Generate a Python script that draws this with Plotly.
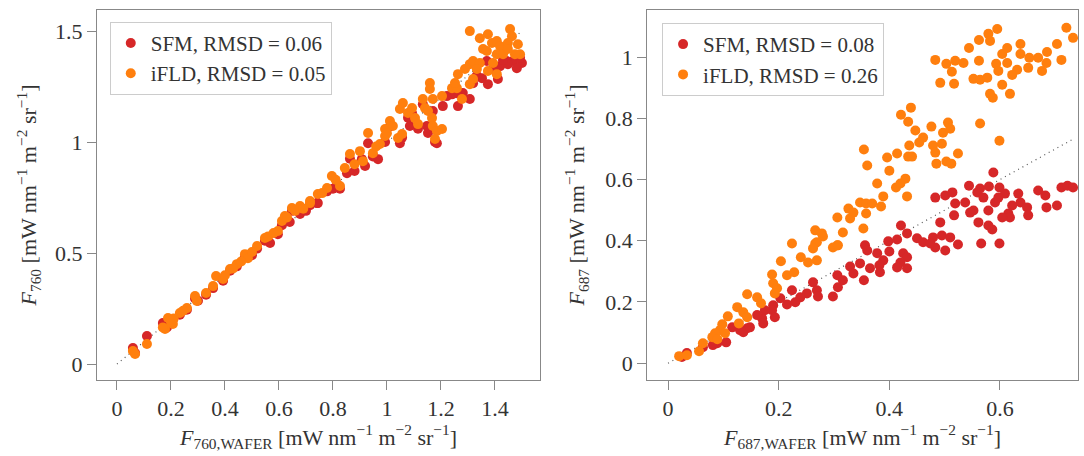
import plotly.graph_objects as go

# ---------------- data ----------------
SFM_760 = [(0.059,0.072),(0.111,0.126),(0.170,0.185),(0.178,0.170),(0.207,0.200),(0.233,0.222),(0.259,0.245),
 (0.289,0.295),(0.330,0.312),(0.356,0.342),(0.393,0.375),(0.419,0.420),(0.444,0.440),(0.474,0.482),(0.519,0.520),
 (0.548,0.555),(0.567,0.545),(0.596,0.585),(0.611,0.625),(0.648,0.690),(0.678,0.676),(0.715,0.715),(0.744,0.725),
 (0.741,0.725),(0.778,0.778),(0.815,0.811),(0.826,0.790),(0.852,0.860),(0.863,0.925),(0.907,0.923),(0.919,0.892),
 (0.930,0.995),(0.948,0.935),(0.967,0.923),(0.993,1.000),(1.011,1.070),(1.048,0.995),(1.056,1.020),(1.078,1.110),
 (1.085,1.072),(1.115,1.060),(1.148,1.072),(1.152,1.041),(1.185,0.995),(1.178,1.000),(1.207,1.162),(1.222,1.207),
 (1.263,1.162),(1.281,1.221),(1.307,1.194),(1.352,1.288),(1.374,1.261),(1.411,1.284),(1.370,1.365),(1.419,1.342),
 (1.467,1.365),(1.500,1.356),(1.481,1.333),(1.444,1.365),(1.448,1.351),(1.333,1.300),(1.393,1.330),(1.430,1.370),
 (1.493,1.380),(1.170,1.140),(1.133,1.170),(1.093,1.130),(1.259,1.220),(1.241,1.215),(1.319,1.265),(0.800,0.790),
 (0.880,0.870),(0.067,0.050),(0.185,0.165),(0.300,0.285),(0.500,0.490),(0.640,0.640),(0.700,0.690)]

IFLD_760 = [(0.059,0.059),(0.067,0.045),(0.111,0.090),(0.178,0.158),(0.189,0.207),(0.207,0.180),(0.233,0.230),
 (0.259,0.252),(0.289,0.306),(0.296,0.284),(0.330,0.320),(0.356,0.351),(0.367,0.396),(0.393,0.383),(0.419,0.428),
 (0.444,0.450),(0.474,0.495),(0.485,0.477),(0.519,0.532),(0.548,0.568),(0.596,0.599),(0.611,0.644),(0.622,0.667),
 (0.648,0.703),(0.678,0.712),(0.715,0.725),(0.715,0.734),(0.744,0.766),(0.778,0.793),(0.796,0.847),(0.826,0.802),
 (0.844,0.883),(0.863,0.946),(0.900,0.959),(0.911,0.914),(0.930,1.041),(0.948,0.950),(0.974,0.991),(0.993,1.027),
 (0.993,1.059),(1.011,1.095),(1.022,1.072),(1.041,1.018),(1.056,1.036),(1.048,1.149),(1.059,1.176),(1.078,1.131),
 (1.093,1.153),(1.104,1.108),(1.115,1.081),(1.133,1.194),(1.141,1.153),(1.152,1.140),(1.159,1.266),(1.159,1.239),
 (1.167,1.108),(1.170,1.072),(1.185,1.050),(1.204,1.059),(1.178,1.014),(1.170,1.194),(1.204,1.207),(1.241,1.243),
 (1.259,1.243),(1.252,1.266),(1.278,1.194),(1.307,1.261),(1.263,1.306),(1.289,1.329),(1.307,1.351),(1.319,1.365),
 (1.344,1.356),(1.333,1.329),(1.319,1.284),(1.374,1.320),(1.407,1.306),(1.393,1.356),(1.307,1.500),(1.344,1.468),
 (1.374,1.486),(1.389,1.446),(1.407,1.455),(1.419,1.432),(1.356,1.419),(1.370,1.410),(1.407,1.396),(1.430,1.396),
 (1.456,1.509),(1.463,1.477),(1.448,1.446),(1.485,1.441),(1.493,1.396),(1.474,1.396),(1.448,1.419),(0.170,0.165),
 (0.200,0.190),(0.210,0.205),(0.245,0.240),(0.400,0.400),(0.430,0.430),(0.460,0.462),(0.500,0.505),(0.560,0.575),
 (0.580,0.590),(0.630,0.660),(0.660,0.690),(0.690,0.700),(0.760,0.770),(0.810,0.830),(0.880,0.900),(0.960,0.980),
 (1.000,1.040)]

SFM_687 = [(0.588,0.623),(0.544,0.580),(0.564,0.571),(0.580,0.577),(0.599,0.574),(0.609,0.554),(0.633,0.554),
 (0.637,0.525),(0.622,0.515),(0.615,0.489),(0.618,0.476),(0.604,0.476),(0.649,0.509),(0.651,0.483),(0.669,0.564),
 (0.682,0.548),(0.684,0.509),(0.703,0.515),(0.711,0.574),(0.722,0.580),(0.732,0.574),(0.559,0.558),(0.570,0.541),
 (0.591,0.525),(0.597,0.541),(0.579,0.499),(0.552,0.499),(0.483,0.541),(0.501,0.548),(0.514,0.558),(0.519,0.522),
 (0.537,0.525),(0.517,0.483),(0.561,0.460),(0.579,0.450),(0.586,0.437),(0.566,0.391),(0.599,0.391),(0.492,0.460),
 (0.421,0.450),(0.432,0.424),(0.450,0.408),(0.461,0.395),(0.479,0.411),(0.495,0.417),(0.510,0.411),(0.524,0.388),
 (0.501,0.368),(0.483,0.378),(0.474,0.391),(0.398,0.398),(0.414,0.404),(0.400,0.365),(0.425,0.359),(0.432,0.346),
 (0.420,0.329),(0.414,0.313),(0.432,0.310),(0.356,0.385),(0.360,0.368),(0.378,0.359),(0.389,0.336),(0.382,0.320),
 (0.383,0.297),(0.365,0.310),(0.347,0.326),(0.329,0.316),(0.335,0.293),(0.354,0.271),(0.306,0.287),(0.316,0.271),
 (0.307,0.248),(0.262,0.264),(0.269,0.238),(0.271,0.218),(0.298,0.218),(0.251,0.228),(0.224,0.238),(0.239,0.215),
 (0.230,0.199),(0.215,0.192),(0.203,0.212),(0.190,0.189),(0.188,0.173),(0.193,0.150),(0.175,0.173),(0.170,0.147),
 (0.172,0.130),(0.161,0.157),(0.143,0.114),(0.130,0.108),(0.136,0.101),(0.148,0.117),(0.116,0.117),(0.105,0.068),
 (0.089,0.065),(0.081,0.059),(0.063,0.052),(0.034,0.033),(0.025,0.020),(0.546,0.492)]

IFLD_687 = [(0.483,0.991),(0.503,0.978),(0.519,0.988),(0.534,0.981),(0.513,0.952),(0.492,0.916),(0.517,0.913),
 (0.544,1.030),(0.562,1.056),(0.579,1.076),(0.595,1.092),(0.582,1.053),(0.562,0.988),(0.552,0.929),(0.564,0.926),
 (0.577,0.933),(0.582,0.880),(0.587,0.867),(0.604,0.910),(0.618,0.880),(0.593,0.978),(0.597,0.955),(0.613,0.981),
 (0.604,1.010),(0.613,1.030),(0.637,1.043),(0.637,1.010),(0.631,0.959),(0.622,0.942),(0.651,0.965),(0.653,0.998),
 (0.669,0.998),(0.685,1.017),(0.684,0.981),(0.676,0.955),(0.703,1.043),(0.711,0.991),(0.720,1.096),(0.732,1.063),
 (0.439,0.835),(0.421,0.812),(0.434,0.789),(0.447,0.760),(0.461,0.737),(0.454,0.721),(0.476,0.773),(0.497,0.753),
 (0.506,0.786),(0.510,0.766),(0.495,0.717),(0.479,0.711),(0.483,0.688),(0.485,0.652),(0.503,0.659),(0.512,0.652),
 (0.524,0.685),(0.436,0.711),(0.414,0.685),(0.434,0.675),(0.441,0.675),(0.396,0.672),(0.354,0.698),(0.360,0.646),
 (0.400,0.629),(0.564,0.783),(0.599,0.727),(0.378,0.587),(0.412,0.574),(0.429,0.603),(0.420,0.587),(0.432,0.545),
 (0.389,0.545),(0.347,0.525),(0.358,0.522),(0.369,0.522),(0.385,0.512),(0.326,0.505),(0.335,0.492),(0.306,0.476),
 (0.329,0.473),(0.358,0.489),(0.316,0.427),(0.353,0.440),(0.266,0.434),(0.278,0.424),(0.224,0.391),(0.266,0.391),
 (0.306,0.385),(0.280,0.414),(0.269,0.395),(0.262,0.375),(0.298,0.378),(0.307,0.385),(0.204,0.333),(0.240,0.346),
 (0.253,0.329),(0.269,0.336),(0.188,0.290),(0.215,0.287),(0.228,0.297),(0.190,0.261),(0.197,0.245),(0.193,0.228),
 (0.143,0.225),(0.161,0.215),(0.168,0.196),(0.125,0.183),(0.136,0.166),(0.143,0.150),(0.128,0.130),(0.108,0.153),
 (0.098,0.127),(0.094,0.108),(0.103,0.098),(0.085,0.098),(0.080,0.085),(0.089,0.078),(0.063,0.065),(0.056,0.039),
 (0.020,0.023),(0.034,0.026)]

SERIES_NAMES = ["SFM", "iFLD"]
RMSD_760 = [0.06, 0.05]
RMSD_687 = [0.08, 0.26]
X_TICKS_760 = [0, 0.2, 0.4, 0.6, 0.8, 1, 1.2, 1.4]
Y_TICKS_760 = [0, 0.5, 1, 1.5]
X_TICKS_687 = [0, 0.2, 0.4, 0.6]
Y_TICKS_687 = [0, 0.2, 0.4, 0.6, 0.8, 1]

COLORS = ["#d62728", "#ff7f0e"]
FONT = "Liberation Serif"
TXT = "#333333"
AX = "#888888"

def unzip(pairs):
    return [p[0] for p in pairs], [p[1] for p in pairs]

fig = go.Figure()

panels = [
    ("x", "y", "legend", [SFM_760, IFLD_760], RMSD_760),
    ("x2", "y2", "legend2", [SFM_687, IFLD_687], RMSD_687),
]
for xa, ya, lg, series, rmsd in panels:
    xmax = max(max(unzip(s)[0]) for s in series)
    fig.add_trace(go.Scatter(x=[0, xmax], y=[0, xmax], mode="lines",
                             line=dict(color="#555555", width=1.2, dash="1px,4px"),
                             showlegend=False, hoverinfo="skip", xaxis=xa, yaxis=ya))
    for name, s, c, r in zip(SERIES_NAMES, series, COLORS, rmsd):
        xs, ys = unzip(s)
        fig.add_trace(go.Scatter(x=xs, y=ys, mode="markers", name=f"{name}, RMSD = {r:.2f}",
                                 marker=dict(color=c, size=10, line=dict(width=0)),
                                 xaxis=xa, yaxis=ya, legend=lg))

unit = " [mW nm<sup>−1</sup> m<sup>−2</sup> sr<sup>−1</sup>]"
axis_common = dict(showline=True, linecolor=AX, linewidth=1, mirror=True, ticks="outside",
                   ticklen=9, tickcolor=AX, showgrid=False, zeroline=False,
                   tickfont=dict(family=FONT, size=22, color=TXT),
                   title_font=dict(family=FONT, size=22, color=TXT))

leg_common = dict(xanchor="left", yanchor="top", bgcolor="white",
                  bordercolor="#cccccc", borderwidth=1,
                  font=dict(family=FONT, size=21, color=TXT),
                  itemwidth=30, tracegroupgap=0)

fig.update_layout(
    width=1084, height=456,
    margin=dict(l=97, r=6, t=10, b=76),
    paper_bgcolor="white", plot_bgcolor="white",
    font=dict(family=FONT, size=22, color=TXT),
    xaxis=dict(domain=[0, 0.4516], range=[-0.074, 1.567], tickvals=X_TICKS_760,
               title=dict(text="<i>F</i><sub>760,WAFER</sub>" + unit, standoff=8), **axis_common),
    yaxis=dict(domain=[0, 1], range=[-0.072, 1.595], tickvals=Y_TICKS_760,
               title=dict(text="<i>F</i><sub>760</sub>" + unit, standoff=12), **axis_common),
    xaxis2=dict(domain=[0.5607, 1], range=[-0.038, 0.741], tickvals=X_TICKS_687, anchor="y2",
                title=dict(text="<i>F</i><sub>687,WAFER</sub>" + unit, standoff=8), **axis_common),
    yaxis2=dict(domain=[0, 1], range=[-0.055, 1.154], tickvals=Y_TICKS_687, anchor="x2",
                title=dict(text="<i>F</i><sub>687</sub>" + unit, standoff=14), **axis_common),
    legend=dict(x=0.013, y=0.968, **leg_common),
    legend2=dict(x=0.576, y=0.965, **leg_common),
)

fig.write_html("out.html")
